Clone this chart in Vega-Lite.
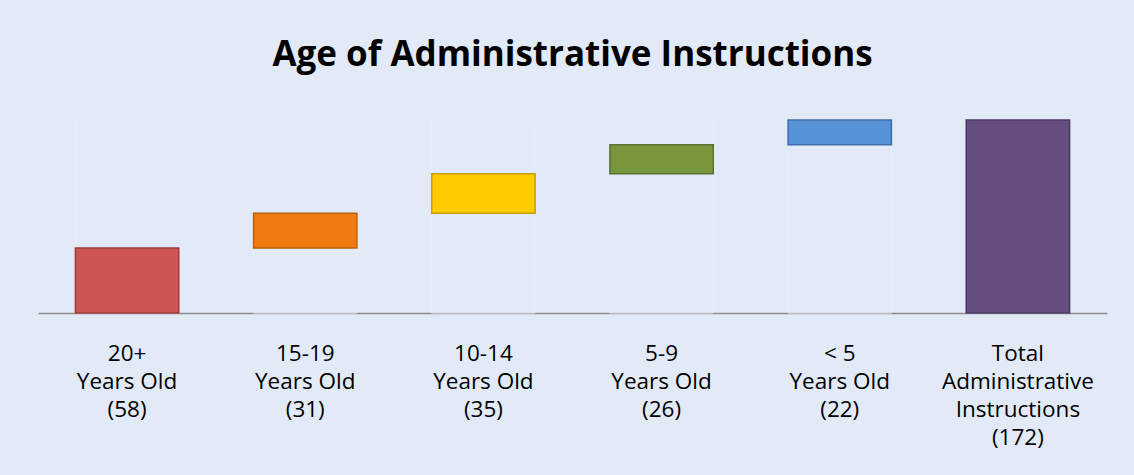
{
  "$schema": "https://vega.github.io/schema/vega-lite/v6.json",
  "autosize": {"type": "none"},
  "width": 1069,
  "height": 224.4,
  "padding": {"left": 38, "top": 88.6, "right": 27, "bottom": 162},
  "background": "#e3eaf7",
  "title": {
    "text": "Age of Administrative Instructions",
    "font": "Open Sans",
    "fontSize": 35,
    "fontWeight": "bold",
    "color": "#000000",
    "anchor": "middle",
    "baseline": "middle",
    "offset": -1
  },
  "config": {"view": {"stroke": null}},
  "data": {
    "values": [
      {"label": "20+|Years Old|(58)", "start": 0, "end": 58, "kind": "a"},
      {"label": "15-19|Years Old|(31)", "start": 58, "end": 89, "kind": "b"},
      {"label": "10-14|Years Old|(35)", "start": 89, "end": 124, "kind": "c"},
      {"label": "5-9|Years Old|(26)", "start": 124, "end": 150, "kind": "d"},
      {"label": "< 5|Years Old|(22)", "start": 150, "end": 172, "kind": "e"},
      {"label": "Total|Administrative|Instructions|(172)", "start": 0, "end": 172, "kind": "f"}
    ]
  },
  "encoding": {
    "x": {
      "field": "label",
      "type": "nominal",
      "sort": null,
      "scale": {"paddingInner": 0.42, "paddingOuter": 0.21},
      "axis": {
        "title": null,
        "labelExpr": "split(datum.value, '|')",
        "labelAngle": 0,
        "labelFont": "Open Sans",
        "labelFontSize": 22.5,
        "labelColor": "#000000",
        "labelLineHeight": 28,
        "labelBaseline": "top",
        "labelPadding": 29,
        "ticks": false,
        "domainColor": "#8c8c8c",
        "domainWidth": 1.5,
        "grid": false
      }
    }
  },
  "layer": [
    {
      "mark": {"type": "bar", "fill": null, "stroke": "#e6edf9", "strokeWidth": 1},
      "encoding": {
        "y": {"datum": 0, "type": "quantitative", "scale": {"domain": [0, 200]}, "axis": null},
        "y2": {"datum": 172}
      }
    },
    {
      "mark": {"type": "bar", "strokeWidth": 1.5},
      "encoding": {
        "y": {"field": "start", "type": "quantitative", "scale": {"domain": [0, 200]}, "axis": null},
        "y2": {"field": "end"},
        "color": {
          "field": "kind",
          "type": "nominal",
          "legend": null,
          "scale": {
            "domain": ["a", "b", "c", "d", "e", "f"],
            "range": ["#cd5553", "#f07a10", "#ffcc00", "#78963c", "#5592d8", "#664f80"]
          }
        },
        "stroke": {
          "field": "kind",
          "type": "nominal",
          "legend": null,
          "scale": {
            "domain": ["a", "b", "c", "d", "e", "f"],
            "range": ["#9e3b39", "#b9600f", "#c89e00", "#5a7230", "#3f6fa8", "#4a3860"]
          }
        }
      }
    }
  ]
}
